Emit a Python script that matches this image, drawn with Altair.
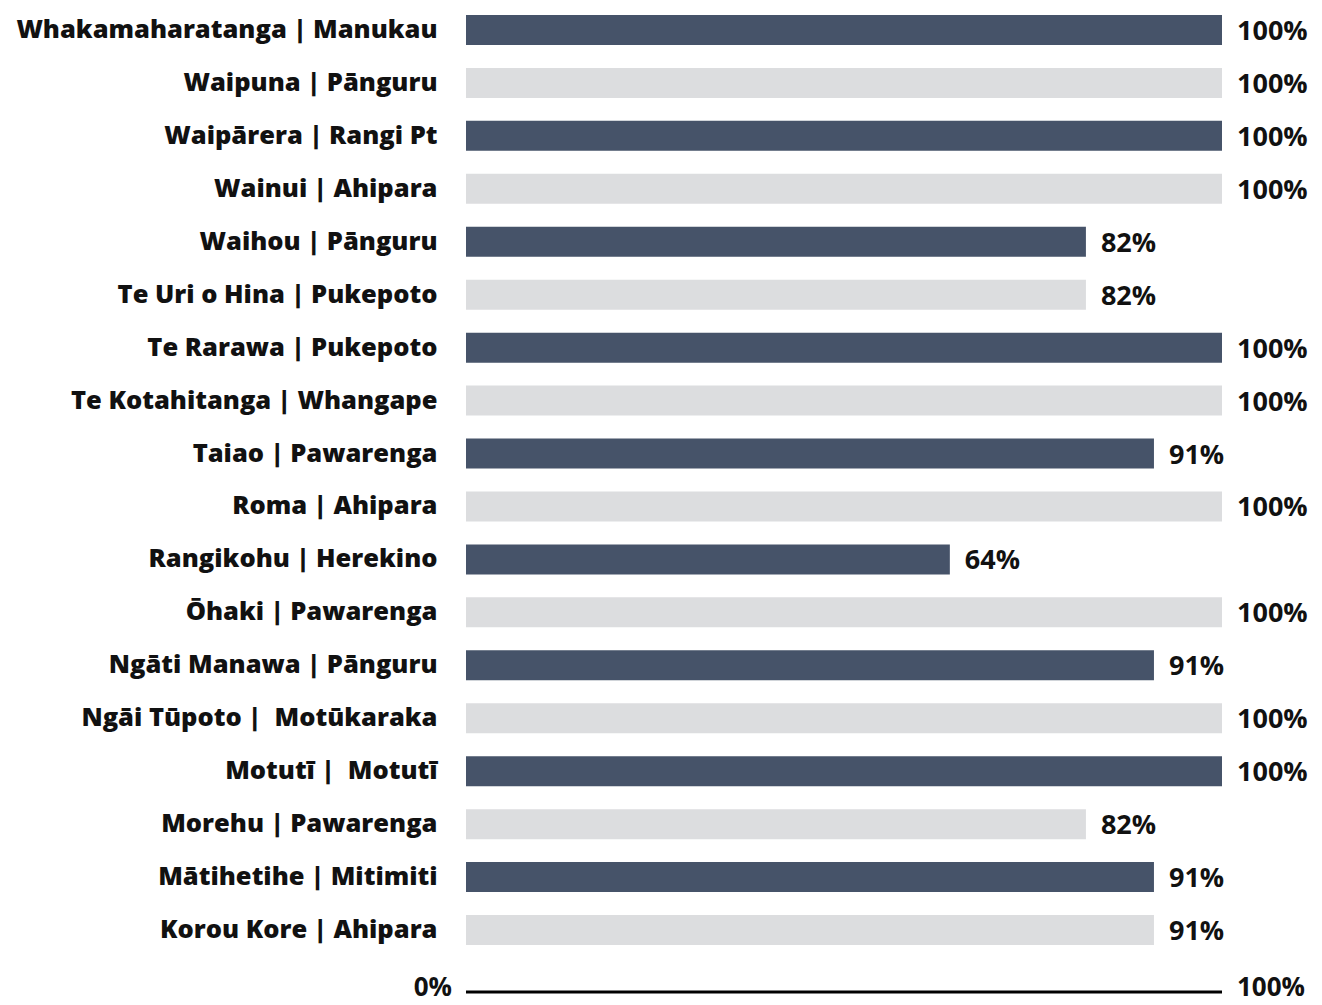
import altair as alt
import pandas as pd

NB = "\u00a0"
names = [
    "Whakamaharatanga | Manukau",
    "Waipuna | Pānguru",
    "Waipārera | Rangi Pt",
    "Wainui | Ahipara",
    "Waihou | Pānguru",
    "Te Uri o Hina | Pukepoto",
    "Te Rarawa | Pukepoto",
    "Te Kotahitanga | Whangape",
    "Taiao | Pawarenga",
    "Roma | Ahipara",
    "Rangikohu | Herekino",
    "Ōhaki | Pawarenga",
    "Ngāti Manawa | Pānguru",
    "Ngāi Tūpoto |" + NB + " Motūkaraka",
    "Motutī |" + NB + " Motutī",
    "Morehu | Pawarenga",
    "Mātihetihe | Mitimiti",
    "Korou Kore | Ahipara",
]
values = [100, 100, 100, 100, 82, 82, 100, 100, 91, 100, 64, 100, 91, 100, 100, 82, 91, 91]
shades = ["dark" if i % 2 == 0 else "light" for i in range(len(names))]

df = pd.DataFrame({
    "name": names,
    "value": values,
    "shade": shades,
    "label": [f"{v}%" for v in values],
})
axis_df = pd.DataFrame({"start": [0], "end": [100]})
end_labels = pd.DataFrame({"x": [0, 100], "t": ["0%", "100%"], "side": ["left", "right"]})

W = 756
H = 953

xscale = alt.Scale(domain=[0, 100], range=[0, W])
yscale = alt.Scale(paddingInner=0.433, paddingOuter=0.2165)

bars = alt.Chart(df).mark_bar().encode(
    x=alt.X("value:Q", scale=xscale, axis=None),
    y=alt.Y("name:N", sort=names, scale=yscale,
            axis=alt.Axis(title=None, ticks=False, domain=False, grid=False, labelPadding=29,
                          labelFont="Open Sans", labelFontWeight=800,
                          labelFontSize=25.5, labelColor="#111111", labelLimit=700)),
    color=alt.Color("shade:N", scale=alt.Scale(domain=["dark", "light"],
                                                 range=["#465369", "#dcdddf"]), legend=None),
)

texts = alt.Chart(df).mark_text(
    align="left", baseline="middle", dx=15, dy=2,
    font="Open Sans", fontWeight=700, fontSize=27, color="#111111",
).encode(
    x=alt.X("value:Q", scale=xscale),
    y=alt.Y("name:N", sort=names, scale=yscale),
    text="label:N",
)

rule = alt.Chart(axis_df).mark_rule(color="#000000", strokeWidth=3).encode(
    x=alt.X("start:Q", scale=xscale),
    x2="end:Q",
    y=alt.value(988.5),
)

left_lab = alt.Chart(end_labels[end_labels.side == "left"]).mark_text(
    align="right", baseline="middle", dx=-14, dy=0,
    font="Open Sans", fontWeight=700, fontSize=26, color="#111111",
).encode(x=alt.X("x:Q", scale=xscale), y=alt.value(984), text="t:N")

right_lab = alt.Chart(end_labels[end_labels.side == "right"]).mark_text(
    align="left", baseline="middle", dx=15, dy=0,
    font="Open Sans", fontWeight=700, fontSize=26, color="#111111",
).encode(x=alt.X("x:Q", scale=xscale), y=alt.value(984), text="t:N")

chart = alt.layer(bars, texts, rule, left_lab, right_lab).properties(
    width=W, height=H,
    autosize=alt.AutoSizeParams(type="none"),
    padding={"left": 466, "top": 3.5, "right": 100, "bottom": 48},
).configure(background="white").configure_view(strokeWidth=0, stroke=None)

chart.save("out.html", embed_options={"renderer": "svg", "actions": False})
